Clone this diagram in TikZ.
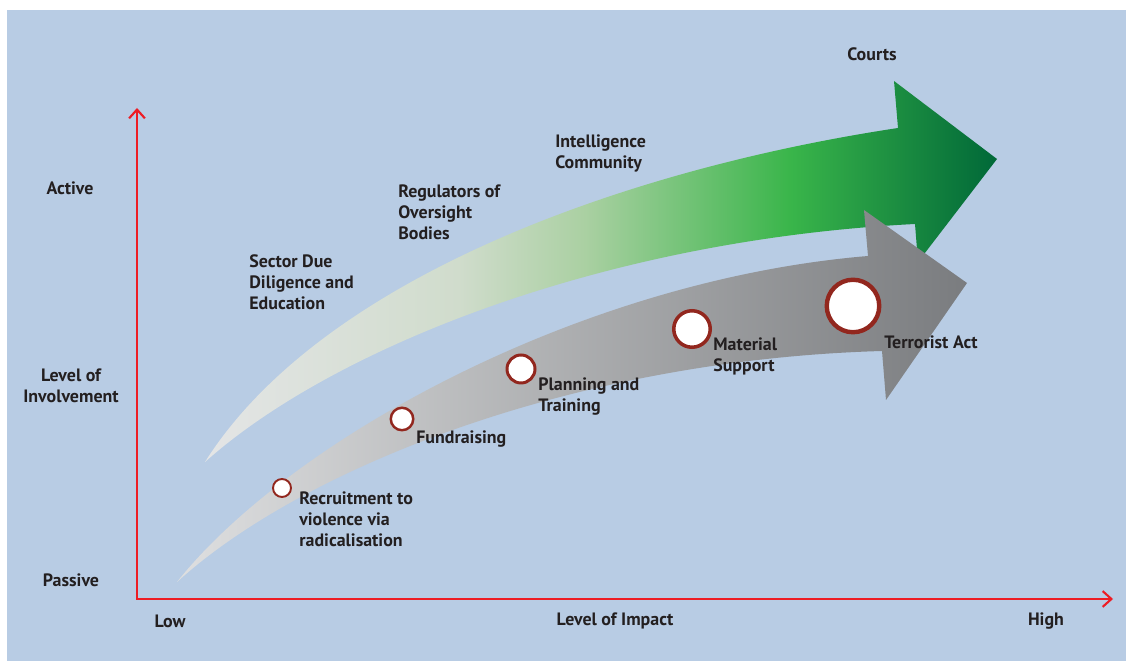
\documentclass[tikz,border=0pt]{standalone}
\usepackage{fontspec}
\setmainfont{PT Sans}
\usetikzlibrary{arrows.meta}

\definecolor{bgblue}{RGB}{184,204,228}
\definecolor{axisred}{RGB}{237,28,36}
\definecolor{ringred}{RGB}{146,39,30}
\definecolor{textdark}{RGB}{35,31,32}
\definecolor{tailgray}{RGB}{228,229,230}
\definecolor{greengray}{RGB}{208,220,204}
\definecolor{palegreen}{RGB}{170,208,162}
\definecolor{midgreen}{RGB}{57,181,74}
\definecolor{deepgreen}{RGB}{0,104,56}
\definecolor{lightgrey}{RGB}{222,223,224}
\definecolor{darkgrey}{RGB}{122,124,127}

\pgfdeclarehorizontalshading{greenfade}{100bp}{color(0bp)=(tailgray); color(25bp)=(tailgray); color(41bp)=(greengray); color(49bp)=(palegreen); color(62bp)=(midgreen); color(75bp)=(deepgreen); color(100bp)=(deepgreen)}

\tikzset{
  axis/.style = {draw = axisred, line width = 1.2pt, {Straight Barb[length=5pt, width=9pt]}-{Straight Barb[length=5pt, width=9pt]}},
  lbl/.style = {font = \fontsize{10.2}{11.9}\selectfont\bfseries, text = textdark, inner sep = 0pt, align = left, anchor = west},
  axlbl/.style = {lbl, align = center, anchor = center},
  stage/.style = {circle, draw = ringred, fill = white, inner sep = 0pt}
}

\begin{document}
\begin{tikzpicture}[x = 0.02cm, y = -0.02cm]
        \useasboundingbox (0, 0) rectangle (1126, 661);
        \fill [bgblue] (7, 10) rectangle (1126, 661);

        % axes
        \coordinate (ytop) at (137, 108);
        \coordinate (origin) at (137, 599);
        \coordinate (xend) at (1113, 599);
        \draw [axis] (ytop) -- (origin) -- (xend);

        % green arrow (oversight)
        \shade [shading = greenfade] (205, 462) .. controls (320, 280) and (620, 170) .. (898, 128) -- (894, 81) -- (997, 159) -- (918, 262) -- (915, 224) .. controls (600, 240) and (330, 350) .. (205, 462) -- cycle;

        % grey arrow (stages)
        \shade [left color = lightgrey, right color = darkgrey] (177, 582) .. controls (290, 440) and (580, 280) .. (868, 256) -- (864, 210) -- (967, 283) -- (886, 400) -- (882, 351) .. controls (570, 360) and (300, 470) .. (177, 582) -- cycle;

        \node [stage, minimum size = 0.36cm, line width = 1.1pt] (recruit) at (282, 488) {};
        \node [stage, minimum size = 0.45cm, line width = 1.4pt] (fund) at (402, 419) {};
        \node [stage, minimum size = 0.56cm, line width = 1.7pt] (plan) at (521, 369) {};
        \node [stage, minimum size = 0.73cm, line width = 2pt] (material) at (692, 329) {};
        \node [stage, minimum size = 1.05cm, line width = 2.5pt] (act) at (853, 306) {};

        \node [lbl] (recruitlbl) at (299, 519) {Recruitment to\\violence via\\radicalisation};
        \node [lbl] (fundlbl) at (416, 439) {Fundraising};
        \node [lbl] (planlbl) at (538, 396.5) {Planning and\\Training};
        \node [lbl] (materiallbl) at (713, 356) {Material\\Support};
        \node [lbl] (actlbl) at (884, 342) {Terrorist Act};

        \node [lbl] (sector) at (249, 282.5) {Sector Due\\Diligence and\\Education};
        \node [lbl] (regulators) at (398, 212) {Regulators of\\Oversight\\Bodies};
        \node [lbl] (intel) at (555, 153.5) {Intelligence\\Community};
        \node [axlbl] (courts) at (872, 54) {Courts};

        \node [axlbl] (active) at (70, 188) {Active};
        \node [axlbl] (involve) at (71, 386) {Level of\\Involvement};
        \node [axlbl] (passive) at (71, 580) {Passive};
        \node [axlbl] (low) at (170, 621) {Low};
        \node [axlbl] (impact) at (615, 621) {Level of Impact};
        \node [axlbl] (high) at (1046, 621) {High};
    \end{tikzpicture}
\end{document}
